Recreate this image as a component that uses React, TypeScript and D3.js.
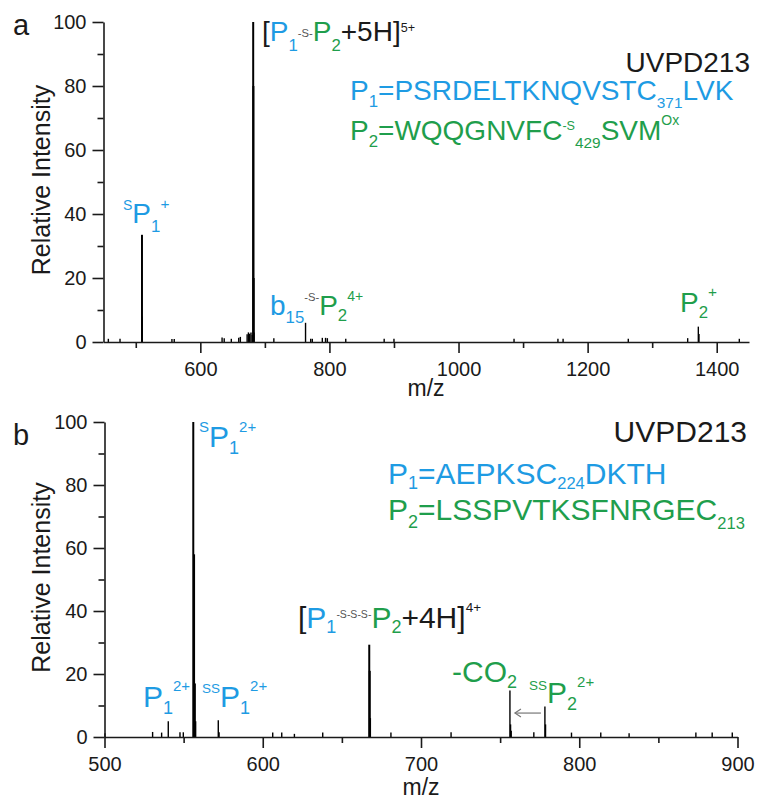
import React, { useEffect, useRef } from "react";
import * as d3 from "d3";

const FONT = "'Liberation Sans', Arial, Helvetica, sans-serif";
const BLUE = "#1e9be3";
const GREEN = "#1f9e4c";
const GREY = "#555";
const K = "#1a1a1a";

// panel a peaks (m/z, relative intensity)
const mzA = [457.5, 475.6, 509.6, 510.1, 556, 559.6, 633.7, 637, 648, 659.5, 662, 672.5, 674.5, 676.5, 678.5, 680.5, 681.9, 682.2, 682.6, 683.2, 713.9, 763.0, 771, 773.5, 789, 794, 796.8, 825.3, 884.8, 900, 1086, 1154, 1162, 1263, 1355, 1371.5, 1372.5, 1435];
const intA = [1.0, 1.0, 33.5, 8, 0.9, 0.9, 1.4, 1.2, 1.0, 1.3, 1.6, 2.4, 3.0, 2.6, 3.0, 2.2, 100, 80, 20, 3, 1.2, 6.0, 1.0, 1.0, 1.3, 1.3, 1.2, 1.0, 1.0, 1.0, 1.0, 1.0, 1.0, 1.0, 1.2, 4.8, 2.5, 1.0];

// panel b peaks
const mzB = [500.3, 530.4, 536.1, 540.3, 547.7, 549.8, 556.1, 556.6, 557.1, 557.6, 571.9, 572.4, 606.3, 612, 620, 637.9, 667.3, 667.6, 668, 681, 719, 756.2, 756.6, 757, 771.3, 778.3, 778.7, 795.1, 813.6, 831.5, 873.7, 884, 896.7];
const intB = [1.2, 1.6, 1.4, 5.0, 1.5, 1.5, 100, 58, 17, 5, 5.3, 1.5, 1.4, 1.4, 1.0, 1.4, 29.3, 21, 6, 1.4, 1.5, 14.8, 4, 2, 1.5, 9.7, 4, 1.4, 1.4, 1.2, 1.4, 1.4, 1.4];

const yTicks = [0, 20, 40, 60, 80, 100];
const yMinor = [10, 30, 50, 70, 90];
const xTicksA = [600, 800, 1000, 1200, 1400];
const xMinorA = [500, 700, 900, 1100, 1300];
const xTicksB = [500, 600, 700, 800, 900];
const xMinorB = [550, 650, 750, 850];

// text runs: [text, colour, dy (em), size (em)]
type Run = [string, string, number?, number?];

const drawRich = (g: any, x: number, y: number, runs: Run[], size: number, anchor = "start") => {
  const t = g.append("text")
    .attr("x", x)
    .attr("y", y)
    .attr("font-size", size)
    .attr("font-family", FONT)
    .attr("text-anchor", anchor);
  let cur = 0;
  runs.forEach(([s, c, off = 0, fs = 1]) => {
    t.append("tspan")
      .attr("dy", (off - cur) * size)
      .attr("font-size", fs * size)
      .attr("fill", c)
      .text(s);
    cur = off;
  });
};

const drawPanel = (svg: any, o: any) => {
  const g = svg.append("g");
  const x = d3.scaleLinear().domain(o.xDomain).range(o.xRange);
  const y = d3.scaleLinear().domain([0, 100]).range(o.yRange);
  const x0 = o.xRange[0];
  const y0 = o.yRange[0];

  // peaks
  g.selectAll("line.pk")
    .data(o.mz.map((m: number, i: number) => [m, o.int[i]]))
    .join("line")
    .attr("class", "pk")
    .attr("x1", (d: number[]) => x(d[0]))
    .attr("x2", (d: number[]) => x(d[0]))
    .attr("y1", y(0))
    .attr("y2", (d: number[]) => y(d[1]))
    .attr("stroke", "#000")
    .attr("stroke-width", (d: number[]) => (d[1] > 15 ? 2 : 1.4));

  const style = (a: any) => {
    a.attr("font-size", 20).attr("font-family", FONT);
    a.selectAll("line").attr("stroke", K).attr("stroke-width", 1.6);
    a.selectAll("path").attr("stroke", K).attr("stroke-width", 1.6);
    a.selectAll("text").attr("fill", K);
  };

  g.append("g")
    .attr("transform", `translate(${x0},0)`)
    .call(d3.axisLeft(y).tickValues(yTicks).tickSize(11).tickPadding(6).tickSizeOuter(0))
    .call(style);
  g.append("g")
    .attr("transform", `translate(${x0},0)`)
    .call(d3.axisLeft(y).tickValues(yMinor).tickSize(6).tickFormat(() => ""))
    .call(style)
    .select(".domain").remove();

  g.append("g")
    .attr("transform", `translate(0,${y0})`)
    .call(d3.axisBottom(x).tickValues(o.xTicks).tickFormat(d3.format("d")).tickSize(11).tickPadding(9).tickSizeOuter(0))
    .call(style);
  g.append("g")
    .attr("transform", `translate(0,${y0})`)
    .call(d3.axisBottom(x).tickValues(o.xMinor).tickSize(6).tickFormat(() => ""))
    .call(style)
    .select(".domain").remove();

  // axis titles
  g.append("text")
    .attr("transform", `translate(50,${(o.yRange[0] + o.yRange[1]) / 2 - 2}) rotate(-90)`)
    .attr("text-anchor", "middle")
    .attr("font-size", 25)
    .attr("font-family", FONT)
    .attr("fill", K)
    .text("Relative Intensity");
  g.append("text")
    .attr("x", o.mzX)
    .attr("y", o.mzY)
    .attr("text-anchor", "middle")
    .attr("font-size", 23)
    .attr("font-family", FONT)
    .attr("fill", K)
    .text("m/z");
  g.append("text")
    .attr("x", 13)
    .attr("y", o.letterY)
    .attr("font-size", 29)
    .attr("font-family", FONT)
    .attr("fill", K)
    .text(o.letter);

  return { g, x, y };
};

export default function App() {
  const svgRef = useRef<SVGSVGElement>(null);

  useEffect(() => {
    const svg = d3.select(svgRef.current);
    svg.selectAll("*").remove();

    // panel a
    const a = drawPanel(svg, {
      mz: mzA, int: intA,
      xDomain: [450, 1450], xRange: [103.5, 749], yRange: [342, 22],
      xTicks: xTicksA, xMinor: xMinorA,
      mzX: 426, mzY: 396, letter: "a", letterY: 35,
    });
    const sa = 28;
    drawRich(a.g, 262, 41, [["[", K], ["P", BLUE], ["1", BLUE, 0.36, 0.6], ["-S-", GREY, -0.15, 0.4], ["P", GREEN], ["2", GREEN, 0.36, 0.6], ["+5H]", K], ["5+", K, -0.33, 0.45]], sa);
    drawRich(a.g, 750, 72, [["UVPD213", K]], sa, "end");
    drawRich(a.g, 350, 100, [["P", BLUE], ["1", BLUE, 0.26, 0.6], ["=PSRDELTKNQVSTC", BLUE], ["371", BLUE, 0.3, 0.55], ["LVK", BLUE]], sa);
    drawRich(a.g, 350, 140, [["P", GREEN], ["2", GREEN, 0.26, 0.6], ["=WQQGNVFC", GREEN], ["-S", GREEN, -0.36, 0.45], ["429", GREEN, 0.28, 0.55], ["SVM", GREEN], ["Ox", GREEN, -0.55, 0.5]], sa);
    drawRich(a.g, 123, 223, [["S", BLUE, -0.46, 0.5], ["P", BLUE], ["1", BLUE, 0.33, 0.6], ["+", BLUE, -0.5, 0.55]], sa);
    drawRich(a.g, 270, 315, [["b", BLUE], ["15", BLUE, 0.28, 0.6], ["-S-", GREY, -0.5, 0.4], ["P", GREEN], ["2", GREEN, 0.22, 0.6], ["4+", GREEN, -0.5, 0.5]], sa);
    drawRich(a.g, 680, 312, [["P", GREEN], ["2", GREEN, 0.22, 0.6], ["+", GREEN, -0.55, 0.55]], sa);

    // panel b
    const b = drawPanel(svg, {
      mz: mzB, int: intB,
      xDomain: [500, 900], xRange: [104.5, 737.5], yRange: [737, 422],
      xTicks: xTicksB, xMinor: xMinorB,
      mzX: 421, mzY: 795, letter: "b", letterY: 445,
    });
    const sb = 30;
    drawRich(b.g, 747, 442, [["UVPD213", K]], sb, "end");
    drawRich(b.g, 388, 484, [["P", BLUE], ["1", BLUE, 0.18, 0.6], ["=AEPKSC", BLUE], ["224", BLUE, 0.15, 0.55], ["DKTH", BLUE]], sb);
    drawRich(b.g, 388, 520, [["P", GREEN], ["2", GREEN, 0.25, 0.6], ["=LSSPVTKSFNRGEC", GREEN], ["213", GREEN, 0.3, 0.55]], sb);
    drawRich(b.g, 199, 447, [["S", BLUE, -0.5, 0.5], ["P", BLUE], ["1", BLUE, 0.22, 0.6], ["2+", BLUE, -0.5, 0.5]], sb);
    drawRich(b.g, 298, 628, [["[", K], ["P", BLUE], ["1", BLUE, 0.18, 0.6], ["-S-S-S-", GREY, -0.33, 0.35], ["P", GREEN], ["2", GREEN, 0.18, 0.6], ["+4H]", K], ["4+", K, -0.53, 0.45]], sb);
    drawRich(b.g, 143, 707, [["P", BLUE], ["1", BLUE, 0.22, 0.6], ["2+", BLUE, -0.55, 0.5]], sb);
    drawRich(b.g, 202, 707, [["SS", BLUE, -0.47, 0.45], ["P", BLUE], ["1", BLUE, 0.22, 0.6], ["2+", BLUE, -0.55, 0.5]], sb);
    drawRich(b.g, 452, 682, [["-CO", GREEN], ["2", GREEN, 0.2, 0.6]], sb);
    drawRich(b.g, 529, 703, [["SS", GREEN, -0.45, 0.45], ["P", GREEN], ["2", GREEN, 0.22, 0.6], ["2+", GREEN, -0.55, 0.5]], sb);

    // arrow from ssP2 peak back to the -CO2 peak
    const ay = b.y(7.6);
    const ax1 = b.x(778.3) - 4;
    const ax2 = b.x(756.2) + 5;
    b.g.append("line")
      .attr("x1", ax1).attr("x2", ax2).attr("y1", ay).attr("y2", ay)
      .attr("stroke", "#777").attr("stroke-width", 1.2);
    b.g.append("path")
      .attr("d", `M${ax2 + 6},${ay - 4}L${ax2},${ay}L${ax2 + 6},${ay + 4}`)
      .attr("fill", "none").attr("stroke", "#777").attr("stroke-width", 1.2);
  }, []);

  return (
    <svg
      ref={svgRef}
      width={757}
      height={802}
      style={{ position: "absolute", left: 0, top: 0, background: "#fff" }}
    />
  );
}
